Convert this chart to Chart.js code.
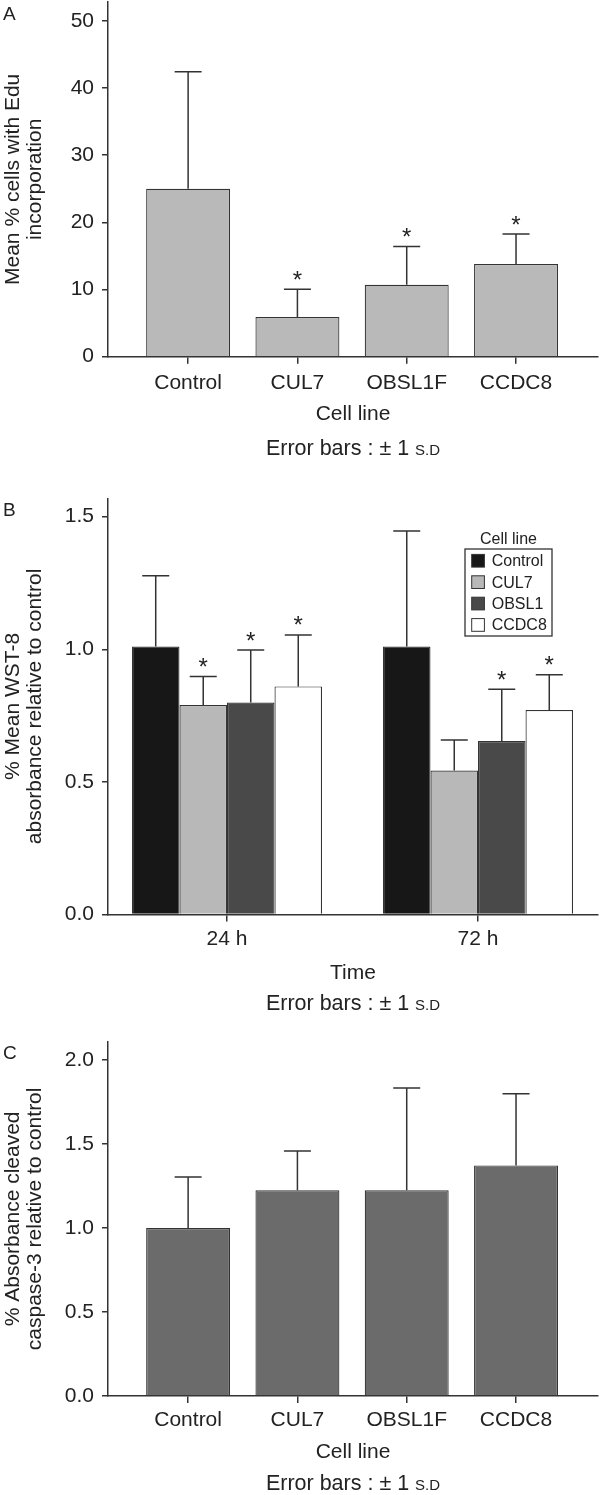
<!DOCTYPE html>
<html lang="en">
<head>
<meta charset="UTF-8">
<title>Edu incorporation, WST-8 and cleaved caspase-3 by cell line</title>
<script src="https://cdn.jsdelivr.net/npm/chart.js"></script>
<style>
  body { margin: 0; background: #fff; }
  canvas { display: block; }
</style>
</head>
<body>
<canvas id="panelA" width="600" height="470"></canvas>
<canvas id="panelB" width="600" height="548"></canvas>
<canvas id="panelC" width="600" height="477"></canvas>

<script>
const FONT = '"Liberation Sans", Arial, sans-serif';
const INK = '#222';
const LINE = '#333';
const TXT = 21;
Chart.defaults.font.family = FONT;
Chart.defaults.color = INK;

// Panel A - Edu incorporation
const cellLines = ['Control', 'CUL7', 'OBSL1F', 'CCDC8'];
const eduMean = [25.0, 5.9, 10.7, 13.8];
const eduSd = [17.4, 4.15, 5.7, 4.45];
const eduStar = [false, true, true, true];

// Panel B - WST-8 absorbance
const timePoints = ['24 h', '72 h'];
const wstLegendTitle = 'Cell line';
const wstLines = ['Control', 'CUL7', 'OBSL1', 'CCDC8'];
const wstColors = ['#171717', '#b8b8b8', '#494949', '#ffffff'];
const wstControl = [1.01, 1.01];
const wstControlSd = [0.267, 0.436];
const wstControlStar = [false, false];
const wstCul7 = [0.79, 0.543];
const wstCul7Sd = [0.107, 0.115];
const wstCul7Star = [true, false];
const wstObsl1 = [0.799, 0.654];
const wstObsl1Sd = [0.198, 0.195];
const wstObsl1Star = [true, true];
const wstCcdc8 = [0.86, 0.771];
const wstCcdc8Sd = [0.194, 0.133];
const wstCcdc8Star = [true, true];

// Panel C - cleaved caspase-3
const caspMean = [1.0, 1.224, 1.224, 1.372];
const caspSd = [0.303, 0.233, 0.609, 0.427];
const caspStar = [false, false, false, false];

// error bars (upper half only) and significance stars
const errorBars = {
  id: 'errorBars',
  afterDatasetsDraw(chart) {
    const ctx = chart.ctx;
    const y = chart.scales.y;
    ctx.save();
    ctx.strokeStyle = LINE;
    ctx.lineWidth = 1.5;
    ctx.fillStyle = INK;
    ctx.font = '24px ' + FONT;
    ctx.textAlign = 'center';
    ctx.textBaseline = 'alphabetic';
    chart.data.datasets.forEach((ds, di) => {
      chart.getDatasetMeta(di).data.forEach((bar, i) => {
        const top = y.getPixelForValue(ds.data[i] + ds.sd[i]);
        ctx.beginPath();
        ctx.moveTo(bar.x, bar.y);
        ctx.lineTo(bar.x, top);
        ctx.moveTo(bar.x - 13.5, top);
        ctx.lineTo(bar.x + 13.5, top);
        ctx.stroke();
        if (ds.star[i]) ctx.fillText('*', bar.x, top - 1.5);
      });
    });
    ctx.restore();
  }
};

// panel letter and the "Error bars" note under the axis title
const notes = {
  id: 'notes',
  afterDraw(chart, args, o) {
    const { ctx, chartArea } = chart;
    ctx.save();
    ctx.fillStyle = INK;
    ctx.textBaseline = 'alphabetic';
    ctx.textAlign = 'left';
    ctx.font = '19px ' + FONT;
    ctx.fillText(o.letter, 3, o.letterY);
    const t1 = 'Error bars : \u00b1 1 ', t2 = 'S.D';
    ctx.font = '21.5px ' + FONT;
    const w1 = ctx.measureText(t1).width;
    ctx.font = '15px ' + FONT;
    const w2 = ctx.measureText(t2).width;
    const x0 = (chartArea.left + chartArea.right) / 2 - (w1 + w2) / 2;
    ctx.font = '21.5px ' + FONT;
    ctx.fillText(t1, x0, o.noteY);
    ctx.font = '15px ' + FONT;
    ctx.fillText(t2, x0 + w1, o.noteY);
    ctx.restore();
  }
};

// boxed legend inside panel B
const legendBox = {
  id: 'legendBox',
  afterDraw(chart) {
    const ctx = chart.ctx;
    const x0 = 465, y0 = 79, w = 87, h = 87;
    ctx.save();
    ctx.fillStyle = INK;
    ctx.font = '16px ' + FONT;
    ctx.textAlign = 'center';
    ctx.textBaseline = 'middle';
    ctx.fillText(wstLegendTitle, x0 + w / 2, y0 - 9);
    ctx.strokeStyle = LINE;
    ctx.lineWidth = 1.3;
    ctx.strokeRect(x0, y0, w, h);
    ctx.textAlign = 'left';
    ctx.lineWidth = 1;
    chart.data.datasets.forEach((ds, i) => {
      const cy = y0 + 11.7 + i * 21.4;
      ctx.fillStyle = ds.backgroundColor;
      ctx.fillRect(x0 + 6.7, cy - 6.3, 12.7, 12.7);
      ctx.strokeRect(x0 + 6.7, cy - 6.3, 12.7, 12.7);
      ctx.fillStyle = INK;
      ctx.fillText(ds.label, x0 + 26.7, cy + 1);
    });
    ctx.restore();
  }
};

function bars(label, data, sd, star, color, catPct) {
  return {
    label, data, sd, star,
    backgroundColor: color,
    borderColor: LINE,
    borderWidth: 1.2,
    categoryPercentage: catPct,
    barPercentage: 1
  };
}

function makePanel(id, p) {
  const canvas = document.getElementById(id);
  const H = canvas.height;
  return new Chart(canvas, {
    type: 'bar',
    data: { labels: p.categories.map((_, i) => i), datasets: p.datasets },
    options: {
      responsive: false,
      animation: false,
      events: [],
      layout: { padding: { top: p.padTop, right: 2, bottom: 0, left: 0 } },
      plugins: {
        legend: { display: false },
        tooltip: { enabled: false },
        notes: { letter: p.letter, letterY: p.letterY, noteY: p.noteY }
      },
      scales: {
        x: {
          type: 'linear',
          min: p.xMin,
          max: p.xMax,
          offset: false,
          afterBuildTicks: s => { s.ticks = p.categories.map((_, i) => ({ value: i })); },
          afterFit: s => { s.height = H - p.areaBottom; s.paddingLeft = 0; s.paddingRight = 0; },
          ticks: {
            callback: v => p.categories[v],
            font: { size: TXT }, color: INK, padding: p.tickPad,
            maxRotation: 0, autoSkip: false
          },
          grid: { offset: false, drawOnChartArea: false, tickLength: 7, color: LINE, lineWidth: 1.5 },
          border: { color: LINE, width: 1.5 },
          title: {
            display: true, text: p.xTitle, color: INK,
            font: { size: TXT, lineHeight: 1.2 },
            padding: { top: 0, bottom: p.titlePad }
          }
        },
        y: {
          min: 0,
          max: p.yMax,
          afterFit: s => { s.width = 108; s.paddingTop = 0; s.paddingBottom = 0; },
          ticks: {
            stepSize: p.yStep, includeBounds: false, callback: p.yFmt,
            font: { size: TXT }, color: INK, padding: 8
          },
          grid: { drawOnChartArea: false, tickLength: 6, color: LINE, lineWidth: 1.5 },
          border: { color: LINE, width: 1.5 },
          title: {
            display: true, text: p.yTitle, color: INK,
            font: { size: TXT, lineHeight: 22 / TXT },
            padding: { top: 2, bottom: 0 }
          }
        }
      }
    },
    plugins: p.plugins
  });
}

makePanel('panelA', {
  categories: cellLines,
  datasets: [bars('Edu', eduMean, eduSd, eduStar, '#b9b9b9', 0.768)],
  xMin: -0.733, xMax: 3.75,
  yMax: 52.8, yStep: 10, yFmt: v => String(v),
  padTop: 2, areaBottom: 356.7, tickPad: 7.4, titlePad: 43.4,
  xTitle: 'Cell line',
  yTitle: ['Mean % cells with Edu', 'incorporation'],
  letter: 'A', letterY: 20, noteY: 455,
  plugins: [errorBars, notes]
});

makePanel('panelB', {
  categories: timePoints,
  datasets: [
    bars(wstLines[0], wstControl, wstControlSd, wstControlStar, wstColors[0], 0.757),
    bars(wstLines[1], wstCul7, wstCul7Sd, wstCul7Star, wstColors[1], 0.757),
    bars(wstLines[2], wstObsl1, wstObsl1Sd, wstObsl1Star, wstColors[2], 0.757),
    bars(wstLines[3], wstCcdc8, wstCcdc8Sd, wstCcdc8Star, wstColors[3], 0.757)
  ],
  xMin: -0.474, xMax: 1.478,
  yMax: 1.569, yStep: 0.5, yFmt: v => v.toFixed(1),
  padTop: 28.3, areaBottom: 444.6, tickPad: 5.4, titlePad: 32.4,
  xTitle: 'Time',
  yTitle: ['% Mean WST-8', 'absorbance relative to control'],
  letter: 'B', letterY: 46, noteY: 540,
  plugins: [errorBars, notes, legendBox]
});

makePanel('panelC', {
  categories: cellLines,
  datasets: [bars('Caspase-3', caspMean, caspSd, caspStar, '#6b6b6b', 0.768)],
  xMin: -0.733, xMax: 3.75,
  yMax: 2.108, yStep: 0.5, yFmt: v => v.toFixed(1),
  padTop: 23.7, areaBottom: 378, tickPad: 4.4, titlePad: 30.4,
  xTitle: 'Cell line',
  yTitle: ['% Absorbance cleaved', 'caspase-3 relative to control'],
  letter: 'C', letterY: 41, noteY: 472,
  plugins: [errorBars, notes]
});
</script>
</body>
</html>
